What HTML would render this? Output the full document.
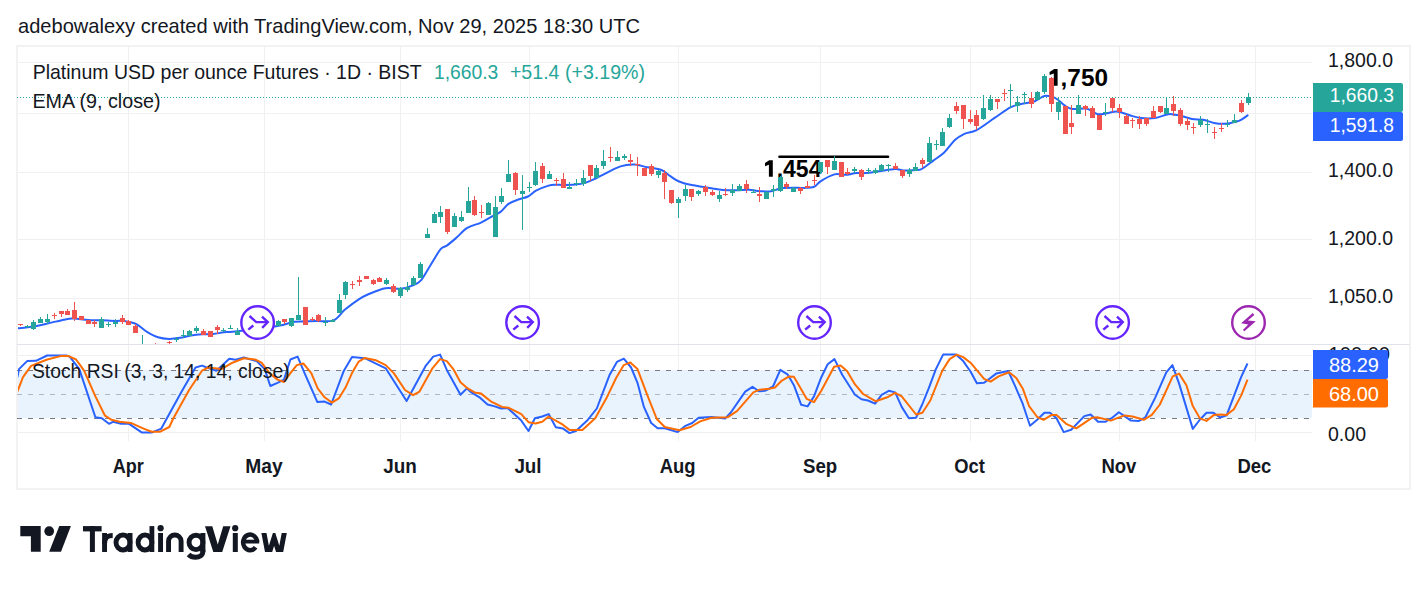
<!DOCTYPE html>
<html><head><meta charset="utf-8"><style>
html,body{margin:0;padding:0;background:#fff;width:1427px;height:591px;overflow:hidden}
svg{position:absolute;left:0;top:0}
text{font-family:"Liberation Sans",sans-serif}
</style></head><body>
<svg width="1427" height="591" viewBox="0 0 1427 591" shape-rendering="crispEdges">
<defs>
<clipPath id="pp"><rect x="18" y="47" width="1294" height="297"/></clipPath>
<clipPath id="rp"><rect x="18" y="345" width="1294" height="96"/></clipPath>
</defs>

<text x="18" y="32.7" font-size="20.3" fill="#131722" textLength="622" lengthAdjust="spacingAndGlyphs">adebowalexy created with TradingView.com, Nov 29, 2025 18:30 UTC</text>
<rect x="17" y="46" width="1393" height="443" fill="none" stroke="#f2f2f2" stroke-width="2"/>
<rect x="18" y="62" width="1294" height="1" fill="#f0f0f0"/>
<rect x="18" y="113" width="1294" height="1" fill="#f0f0f0"/>
<rect x="18" y="172" width="1294" height="1" fill="#f0f0f0"/>
<rect x="18" y="239" width="1294" height="1" fill="#f0f0f0"/>
<rect x="18" y="298" width="1294" height="1" fill="#f0f0f0"/>
<rect x="128" y="47" width="1" height="394" fill="#f0f0f0"/>
<rect x="264" y="47" width="1" height="394" fill="#f0f0f0"/>
<rect x="400" y="47" width="1" height="394" fill="#f0f0f0"/>
<rect x="529" y="47" width="1" height="394" fill="#f0f0f0"/>
<rect x="678" y="47" width="1" height="394" fill="#f0f0f0"/>
<rect x="820" y="47" width="1" height="394" fill="#f0f0f0"/>
<rect x="970" y="47" width="1" height="394" fill="#f0f0f0"/>
<rect x="1119" y="47" width="1" height="394" fill="#f0f0f0"/>
<rect x="1255" y="47" width="1" height="394" fill="#f0f0f0"/>
<rect x="18" y="355" width="1294" height="1" fill="#f0f0f0"/>
<rect x="18" y="432" width="1294" height="1" fill="#f0f0f0"/>
<rect x="18" y="370" width="1294" height="48" fill="#e9f3fe"/>
<line x1="17" y1="370.5" x2="1312" y2="370.5" stroke="#787b86" stroke-opacity="1" stroke-width="1" stroke-dasharray="5 6"/>
<line x1="17" y1="394.5" x2="1312" y2="394.5" stroke="#787b86" stroke-opacity="0.5" stroke-width="1" stroke-dasharray="5 6"/>
<line x1="17" y1="418.5" x2="1312" y2="418.5" stroke="#787b86" stroke-opacity="1" stroke-width="1" stroke-dasharray="5 6"/>
<rect x="17" y="344" width="1393" height="1" fill="#e0e3eb"/>
<g clip-path="url(#pp)" shape-rendering="geometricPrecision"><path d="M17.0,328.4 C19.8,328.1 28.4,327.3 33.5,326.5 C38.6,325.7 41.8,324.8 47.5,323.5 C53.2,322.2 63.0,319.7 67.5,318.9 C72.0,318.1 70.9,318.4 74.4,318.6 C77.9,318.8 83.8,319.7 88.3,320.0 C92.8,320.3 97.0,320.1 101.5,320.3 C106.0,320.5 112.0,320.9 115.5,321.0 C119.0,321.1 119.0,320.3 122.4,320.8 C125.8,321.3 131.9,322.2 136.0,324.0 C140.1,325.8 143.3,329.6 147.0,331.8 C150.7,334.0 154.3,336.1 158.0,337.3 C161.7,338.5 165.3,338.8 169.0,338.9 C172.7,339.0 176.3,338.4 180.0,337.8 C183.7,337.2 187.3,336.2 191.0,335.6 C194.7,335.0 198.3,334.6 202.0,334.3 C205.7,334.0 209.3,334.3 213.0,334.0 C216.7,333.7 220.3,332.7 224.0,332.3 C227.7,331.9 226.1,332.4 235.0,331.4 C243.9,330.4 267.6,327.7 277.5,326.1 C287.4,324.5 288.2,322.6 294.7,321.8 C301.2,321.0 309.8,321.3 316.3,321.1 C322.8,320.9 328.7,322.3 333.5,320.4 C338.3,318.5 340.9,313.0 345.0,309.6 C349.1,306.2 354.2,302.3 358.0,299.8 C361.8,297.3 363.2,296.4 367.8,294.5 C372.4,292.6 380.0,289.1 385.5,288.2 C391.0,287.2 396.2,289.2 400.6,288.8 C405.1,288.4 408.8,287.0 412.2,285.6 C415.6,284.2 418.0,283.6 421.0,280.3 C424.0,277.0 426.7,271.2 430.0,266.0 C433.3,260.8 437.8,252.6 440.6,249.2 C443.4,245.8 444.1,247.5 446.8,245.6 C449.5,243.7 453.2,240.5 456.6,237.6 C460.0,234.7 463.1,230.4 467.2,227.9 C471.3,225.4 476.9,224.5 481.0,222.6 C485.1,220.7 488.4,218.5 491.6,216.7 C494.9,214.9 497.7,214.0 500.5,211.9 C503.3,209.8 505.5,206.0 508.5,203.9 C511.5,201.8 515.0,200.7 518.3,199.5 C521.5,198.3 525.0,198.0 528.0,196.5 C531.0,195.0 532.6,192.4 536.0,190.6 C539.4,188.8 545.2,186.6 548.5,185.6 C551.8,184.6 553.6,184.8 556.0,184.7 C558.4,184.6 559.8,185.0 563.0,185.0 C566.2,185.0 571.2,185.0 575.0,184.6 C578.8,184.2 582.5,183.6 585.8,182.6 C589.1,181.6 592.2,180.1 595.0,178.8 C597.8,177.5 598.5,176.9 602.8,174.8 C607.0,172.7 615.2,168.1 620.5,166.4 C625.8,164.7 630.2,164.4 634.7,164.6 C639.2,164.8 642.8,166.4 647.2,167.3 C651.7,168.2 657.5,168.5 661.4,170.0 C665.2,171.5 667.3,174.3 670.3,176.2 C673.2,178.1 675.5,180.0 679.1,181.5 C682.7,183.0 687.2,184.2 691.6,185.1 C696.0,186.0 701.7,186.5 705.8,187.2 C709.9,187.8 712.5,188.5 716.0,189.0 C719.5,189.5 723.3,190.1 727.0,190.3 C730.7,190.5 734.3,190.3 738.0,190.2 C741.7,190.1 745.3,189.6 749.0,189.8 C752.7,190.0 756.3,191.0 760.0,191.2 C763.7,191.4 768.1,191.5 771.0,191.2 C773.9,190.9 775.8,189.8 777.6,189.3 C779.4,188.8 779.4,188.3 782.0,188.0 C784.6,187.7 789.3,187.7 793.0,187.7 C796.7,187.7 800.5,188.1 804.0,187.9 C807.5,187.8 811.2,187.9 814.0,186.8 C816.8,185.7 817.1,183.4 820.5,181.3 C823.9,179.2 830.4,175.5 834.5,174.4 C838.6,173.3 841.7,175.0 845.3,174.8 C848.9,174.6 852.7,173.4 856.1,173.1 C859.5,172.8 861.8,173.4 865.6,173.1 C869.5,172.8 874.2,171.9 879.2,171.2 C884.2,170.5 891.4,169.1 895.4,169.0 C899.4,168.9 899.9,170.2 903.5,170.4 C907.1,170.6 913.8,170.4 917.0,170.1 C920.2,169.8 919.8,170.1 922.5,168.5 C925.2,166.9 929.7,163.3 933.3,160.6 C936.9,157.9 940.6,155.9 944.2,152.5 C947.8,149.1 951.5,143.1 954.9,140.0 C958.3,136.9 960.8,135.5 964.4,133.8 C968.0,132.2 971.6,132.7 976.6,130.1 C981.6,127.5 988.6,122.0 994.2,118.2 C999.8,114.4 1005.9,109.8 1010.4,107.4 C1014.9,105.0 1017.1,105.0 1021.2,104.0 C1025.3,103.0 1031.0,102.6 1034.8,101.3 C1038.6,100.0 1040.9,96.5 1044.3,95.9 C1047.7,95.3 1051.7,96.3 1055.1,97.9 C1058.5,99.5 1061.8,103.6 1064.6,105.4 C1067.4,107.2 1068.5,108.5 1072.2,109.0 C1076.0,109.5 1082.8,107.8 1087.1,108.7 C1091.4,109.6 1093.4,113.7 1097.9,114.2 C1102.4,114.7 1110.6,112.1 1114.2,111.7 C1117.8,111.3 1116.9,111.5 1119.6,112.1 C1122.3,112.7 1126.8,114.5 1130.4,115.5 C1134.0,116.5 1137.1,117.6 1141.2,118.0 C1145.3,118.4 1150.3,118.6 1154.8,118.0 C1159.3,117.4 1164.9,114.7 1168.3,114.2 C1171.7,113.7 1173.0,114.5 1175.1,114.8 C1177.2,115.1 1178.2,115.1 1181.0,115.8 C1183.8,116.5 1188.3,118.4 1192.0,119.1 C1195.7,119.8 1199.3,119.2 1203.0,119.8 C1206.7,120.4 1210.3,122.2 1214.0,122.9 C1217.7,123.6 1221.3,124.0 1225.0,123.8 C1228.7,123.6 1233.2,122.5 1236.0,121.8 C1238.8,121.1 1239.6,120.7 1241.5,119.6 C1243.4,118.5 1246.6,116.1 1247.6,115.4" fill="none" stroke="#2962ff" stroke-width="2" stroke-linejoin="round" stroke-linecap="round"/></g>
<line x1="779.5" y1="156.7" x2="888" y2="156.7" stroke="#000" stroke-width="2.6" stroke-linecap="round" shape-rendering="geometricPrecision"/>
<polygon shape-rendering="geometricPrecision" points="769.2,160.3 772.8,160.3 772.8,176.8 768.9,176.8 768.9,164.8 765,166.2 765,163 769.2,160.3" fill="#000"/>
<text x="776.7" y="176.8" font-size="23" font-weight="bold" fill="#000">,454</text>
<polygon shape-rendering="geometricPrecision" points="1054.2,69.1 1057.6,69.1 1057.6,85.8 1053.8,85.8 1053.8,73.6 1049.6,75.1 1049.6,71.9 1054.2,69.1" fill="#000"/>
<text x="1060.6" y="85.8" font-size="23.5" font-weight="bold" fill="#000" textLength="47.5" lengthAdjust="spacingAndGlyphs">,750</text>
<line x1="17" y1="97.5" x2="1312" y2="97.5" stroke="#26a69a" stroke-width="1" stroke-dasharray="1 2"/>
<g clip-path="url(#pp)">
<rect x="20" y="324" width="1" height="2" fill="#ef5350"/>
<rect x="18" y="324" width="5" height="1" fill="#ef5350"/>
<rect x="27" y="325" width="1" height="3" fill="#26a69a"/>
<rect x="25" y="326" width="5" height="1" fill="#26a69a"/>
<rect x="33" y="320" width="1" height="10" fill="#26a69a"/>
<rect x="31" y="322" width="5" height="7" fill="#26a69a"/>
<rect x="40" y="317" width="1" height="6" fill="#26a69a"/>
<rect x="38" y="319" width="5" height="4" fill="#26a69a"/>
<rect x="47" y="314" width="1" height="10" fill="#26a69a"/>
<rect x="45" y="319" width="5" height="3" fill="#26a69a"/>
<rect x="54" y="313" width="1" height="6" fill="#ef5350"/>
<rect x="52" y="315" width="5" height="1" fill="#ef5350"/>
<rect x="61" y="311" width="1" height="6" fill="#ef5350"/>
<rect x="59" y="311" width="5" height="3" fill="#ef5350"/>
<rect x="67" y="309" width="1" height="6" fill="#ef5350"/>
<rect x="65" y="311" width="5" height="4" fill="#ef5350"/>
<rect x="74" y="302" width="1" height="19" fill="#ef5350"/>
<rect x="72" y="310" width="5" height="9" fill="#ef5350"/>
<rect x="81" y="316" width="1" height="4" fill="#ef5350"/>
<rect x="79" y="316" width="5" height="4" fill="#ef5350"/>
<rect x="88" y="320" width="1" height="4" fill="#ef5350"/>
<rect x="86" y="320" width="5" height="4" fill="#ef5350"/>
<rect x="94" y="320" width="1" height="7" fill="#ef5350"/>
<rect x="92" y="322" width="5" height="2" fill="#ef5350"/>
<rect x="101" y="317" width="1" height="11" fill="#26a69a"/>
<rect x="99" y="319" width="5" height="9" fill="#26a69a"/>
<rect x="108" y="322" width="1" height="5" fill="#26a69a"/>
<rect x="106" y="324" width="5" height="1" fill="#26a69a"/>
<rect x="115" y="319" width="1" height="8" fill="#26a69a"/>
<rect x="113" y="322" width="5" height="2" fill="#26a69a"/>
<rect x="122" y="315" width="1" height="9" fill="#ef5350"/>
<rect x="120" y="318" width="5" height="4" fill="#ef5350"/>
<rect x="128" y="320" width="1" height="5" fill="#ef5350"/>
<rect x="126" y="321" width="5" height="4" fill="#ef5350"/>
<rect x="135" y="324" width="1" height="9" fill="#ef5350"/>
<rect x="133" y="326" width="5" height="7" fill="#ef5350"/>
<rect x="142" y="335" width="1" height="23" fill="#26a69a"/>
<rect x="140" y="346" width="5" height="10" fill="#26a69a"/>
<rect x="149" y="346" width="1" height="14" fill="#ef5350"/>
<rect x="147" y="348" width="5" height="7" fill="#ef5350"/>
<rect x="155" y="343" width="1" height="9" fill="#ef5350"/>
<rect x="153" y="346" width="5" height="4" fill="#ef5350"/>
<rect x="162" y="345" width="1" height="10" fill="#26a69a"/>
<rect x="160" y="346" width="5" height="6" fill="#26a69a"/>
<rect x="169" y="341" width="1" height="3" fill="#ef5350"/>
<rect x="167" y="342" width="5" height="1" fill="#ef5350"/>
<rect x="176" y="337" width="1" height="5" fill="#26a69a"/>
<rect x="174" y="339" width="5" height="1" fill="#26a69a"/>
<rect x="183" y="330" width="1" height="8" fill="#26a69a"/>
<rect x="181" y="335" width="5" height="1" fill="#26a69a"/>
<rect x="189" y="330" width="1" height="6" fill="#26a69a"/>
<rect x="187" y="331" width="5" height="5" fill="#26a69a"/>
<rect x="196" y="326" width="1" height="7" fill="#26a69a"/>
<rect x="194" y="328" width="5" height="3" fill="#26a69a"/>
<rect x="203" y="329" width="1" height="6" fill="#ef5350"/>
<rect x="201" y="331" width="5" height="4" fill="#ef5350"/>
<rect x="210" y="331" width="1" height="6" fill="#ef5350"/>
<rect x="208" y="331" width="5" height="6" fill="#ef5350"/>
<rect x="217" y="325" width="1" height="9" fill="#ef5350"/>
<rect x="215" y="327" width="5" height="3" fill="#ef5350"/>
<rect x="223" y="328" width="1" height="4" fill="#26a69a"/>
<rect x="221" y="330" width="5" height="1" fill="#26a69a"/>
<rect x="230" y="325" width="1" height="4" fill="#26a69a"/>
<rect x="228" y="328" width="5" height="1" fill="#26a69a"/>
<rect x="237" y="328" width="1" height="7" fill="#26a69a"/>
<rect x="235" y="331" width="5" height="4" fill="#26a69a"/>
<rect x="244" y="326" width="1" height="7" fill="#26a69a"/>
<rect x="242" y="328" width="5" height="3" fill="#26a69a"/>
<rect x="251" y="325" width="1" height="7" fill="#ef5350"/>
<rect x="249" y="327" width="5" height="3" fill="#ef5350"/>
<rect x="258" y="324" width="1" height="7" fill="#26a69a"/>
<rect x="256" y="326" width="5" height="3" fill="#26a69a"/>
<rect x="265" y="322" width="1" height="7" fill="#26a69a"/>
<rect x="263" y="324" width="5" height="3" fill="#26a69a"/>
<rect x="272" y="320" width="1" height="7" fill="#ef5350"/>
<rect x="270" y="322" width="5" height="3" fill="#ef5350"/>
<rect x="278" y="320" width="1" height="6" fill="#26a69a"/>
<rect x="276" y="321" width="5" height="5" fill="#26a69a"/>
<rect x="284" y="319" width="1" height="5" fill="#ef5350"/>
<rect x="282" y="319" width="5" height="3" fill="#ef5350"/>
<rect x="291" y="318" width="1" height="9" fill="#26a69a"/>
<rect x="289" y="318" width="5" height="8" fill="#26a69a"/>
<rect x="298" y="277" width="1" height="43" fill="#26a69a"/>
<rect x="296" y="315" width="5" height="5" fill="#26a69a"/>
<rect x="305" y="307" width="1" height="18" fill="#ef5350"/>
<rect x="303" y="307" width="5" height="18" fill="#ef5350"/>
<rect x="312" y="317" width="1" height="4" fill="#ef5350"/>
<rect x="310" y="319" width="5" height="1" fill="#ef5350"/>
<rect x="318" y="314" width="1" height="8" fill="#ef5350"/>
<rect x="316" y="315" width="5" height="6" fill="#ef5350"/>
<rect x="325" y="317" width="1" height="9" fill="#26a69a"/>
<rect x="323" y="322" width="5" height="1" fill="#26a69a"/>
<rect x="332" y="319" width="1" height="3" fill="#26a69a"/>
<rect x="330" y="320" width="5" height="2" fill="#26a69a"/>
<rect x="339" y="294" width="1" height="19" fill="#26a69a"/>
<rect x="337" y="300" width="5" height="13" fill="#26a69a"/>
<rect x="345" y="281" width="1" height="18" fill="#26a69a"/>
<rect x="343" y="282" width="5" height="13" fill="#26a69a"/>
<rect x="352" y="281" width="1" height="8" fill="#ef5350"/>
<rect x="350" y="284" width="5" height="1" fill="#ef5350"/>
<rect x="359" y="276" width="1" height="10" fill="#ef5350"/>
<rect x="357" y="280" width="5" height="2" fill="#ef5350"/>
<rect x="366" y="276" width="1" height="3" fill="#ef5350"/>
<rect x="364" y="276" width="5" height="3" fill="#ef5350"/>
<rect x="373" y="279" width="1" height="6" fill="#ef5350"/>
<rect x="371" y="280" width="5" height="4" fill="#ef5350"/>
<rect x="379" y="277" width="1" height="5" fill="#ef5350"/>
<rect x="377" y="278" width="5" height="4" fill="#ef5350"/>
<rect x="386" y="278" width="1" height="7" fill="#26a69a"/>
<rect x="384" y="280" width="5" height="4" fill="#26a69a"/>
<rect x="393" y="284" width="1" height="9" fill="#ef5350"/>
<rect x="391" y="286" width="5" height="6" fill="#ef5350"/>
<rect x="400" y="287" width="1" height="11" fill="#26a69a"/>
<rect x="398" y="288" width="5" height="8" fill="#26a69a"/>
<rect x="407" y="282" width="1" height="10" fill="#26a69a"/>
<rect x="405" y="287" width="5" height="3" fill="#26a69a"/>
<rect x="413" y="276" width="1" height="9" fill="#26a69a"/>
<rect x="411" y="278" width="5" height="7" fill="#26a69a"/>
<rect x="420" y="262" width="1" height="16" fill="#26a69a"/>
<rect x="418" y="264" width="5" height="14" fill="#26a69a"/>
<rect x="427" y="228" width="1" height="10" fill="#26a69a"/>
<rect x="425" y="234" width="5" height="4" fill="#26a69a"/>
<rect x="434" y="212" width="1" height="11" fill="#26a69a"/>
<rect x="432" y="214" width="5" height="9" fill="#26a69a"/>
<rect x="440" y="206" width="1" height="17" fill="#26a69a"/>
<rect x="438" y="212" width="5" height="5" fill="#26a69a"/>
<rect x="447" y="209" width="1" height="25" fill="#ef5350"/>
<rect x="445" y="209" width="5" height="23" fill="#ef5350"/>
<rect x="454" y="213" width="1" height="14" fill="#26a69a"/>
<rect x="452" y="216" width="5" height="11" fill="#26a69a"/>
<rect x="461" y="211" width="1" height="11" fill="#26a69a"/>
<rect x="459" y="217" width="5" height="4" fill="#26a69a"/>
<rect x="468" y="187" width="1" height="26" fill="#26a69a"/>
<rect x="466" y="201" width="5" height="12" fill="#26a69a"/>
<rect x="474" y="196" width="1" height="20" fill="#ef5350"/>
<rect x="472" y="200" width="5" height="15" fill="#ef5350"/>
<rect x="481" y="205" width="1" height="13" fill="#ef5350"/>
<rect x="479" y="212" width="5" height="1" fill="#ef5350"/>
<rect x="488" y="202" width="1" height="13" fill="#26a69a"/>
<rect x="486" y="203" width="5" height="12" fill="#26a69a"/>
<rect x="495" y="196" width="1" height="41" fill="#26a69a"/>
<rect x="493" y="207" width="5" height="30" fill="#26a69a"/>
<rect x="501" y="188" width="1" height="16" fill="#26a69a"/>
<rect x="499" y="196" width="5" height="6" fill="#26a69a"/>
<rect x="508" y="160" width="1" height="22" fill="#26a69a"/>
<rect x="506" y="174" width="5" height="8" fill="#26a69a"/>
<rect x="515" y="172" width="1" height="23" fill="#ef5350"/>
<rect x="513" y="173" width="5" height="17" fill="#ef5350"/>
<rect x="522" y="175" width="1" height="55" fill="#26a69a"/>
<rect x="520" y="191" width="5" height="3" fill="#26a69a"/>
<rect x="529" y="182" width="1" height="10" fill="#26a69a"/>
<rect x="527" y="187" width="5" height="1" fill="#26a69a"/>
<rect x="535" y="162" width="1" height="24" fill="#26a69a"/>
<rect x="533" y="171" width="5" height="14" fill="#26a69a"/>
<rect x="542" y="163" width="1" height="20" fill="#ef5350"/>
<rect x="540" y="166" width="5" height="13" fill="#ef5350"/>
<rect x="549" y="171" width="1" height="8" fill="#26a69a"/>
<rect x="547" y="174" width="5" height="5" fill="#26a69a"/>
<rect x="556" y="178" width="1" height="8" fill="#ef5350"/>
<rect x="554" y="180" width="5" height="1" fill="#ef5350"/>
<rect x="563" y="173" width="1" height="15" fill="#ef5350"/>
<rect x="561" y="179" width="5" height="9" fill="#ef5350"/>
<rect x="569" y="182" width="1" height="7" fill="#26a69a"/>
<rect x="567" y="187" width="5" height="2" fill="#26a69a"/>
<rect x="576" y="179" width="1" height="7" fill="#26a69a"/>
<rect x="574" y="183" width="5" height="1" fill="#26a69a"/>
<rect x="583" y="170" width="1" height="16" fill="#26a69a"/>
<rect x="581" y="178" width="5" height="6" fill="#26a69a"/>
<rect x="590" y="165" width="1" height="16" fill="#ef5350"/>
<rect x="588" y="165" width="5" height="11" fill="#ef5350"/>
<rect x="596" y="165" width="1" height="13" fill="#26a69a"/>
<rect x="594" y="168" width="5" height="10" fill="#26a69a"/>
<rect x="603" y="150" width="1" height="19" fill="#26a69a"/>
<rect x="601" y="161" width="5" height="5" fill="#26a69a"/>
<rect x="610" y="147" width="1" height="15" fill="#ef5350"/>
<rect x="608" y="157" width="5" height="1" fill="#ef5350"/>
<rect x="617" y="151" width="1" height="10" fill="#26a69a"/>
<rect x="615" y="157" width="5" height="4" fill="#26a69a"/>
<rect x="624" y="154" width="1" height="6" fill="#26a69a"/>
<rect x="622" y="156" width="5" height="2" fill="#26a69a"/>
<rect x="630" y="154" width="1" height="12" fill="#ef5350"/>
<rect x="628" y="160" width="5" height="2" fill="#ef5350"/>
<rect x="637" y="157" width="1" height="19" fill="#ef5350"/>
<rect x="635" y="164" width="5" height="1" fill="#ef5350"/>
<rect x="644" y="168" width="1" height="8" fill="#ef5350"/>
<rect x="642" y="168" width="5" height="8" fill="#ef5350"/>
<rect x="651" y="164" width="1" height="12" fill="#ef5350"/>
<rect x="649" y="166" width="5" height="8" fill="#ef5350"/>
<rect x="658" y="170" width="1" height="8" fill="#26a69a"/>
<rect x="656" y="171" width="5" height="4" fill="#26a69a"/>
<rect x="664" y="170" width="1" height="29" fill="#ef5350"/>
<rect x="662" y="173" width="5" height="9" fill="#ef5350"/>
<rect x="671" y="190" width="1" height="14" fill="#ef5350"/>
<rect x="669" y="190" width="5" height="13" fill="#ef5350"/>
<rect x="678" y="197" width="1" height="21" fill="#26a69a"/>
<rect x="676" y="199" width="5" height="4" fill="#26a69a"/>
<rect x="685" y="185" width="1" height="16" fill="#26a69a"/>
<rect x="683" y="189" width="5" height="7" fill="#26a69a"/>
<rect x="691" y="189" width="1" height="12" fill="#ef5350"/>
<rect x="689" y="189" width="5" height="8" fill="#ef5350"/>
<rect x="698" y="190" width="1" height="6" fill="#26a69a"/>
<rect x="696" y="191" width="5" height="3" fill="#26a69a"/>
<rect x="705" y="185" width="1" height="11" fill="#ef5350"/>
<rect x="703" y="187" width="5" height="5" fill="#ef5350"/>
<rect x="712" y="190" width="1" height="6" fill="#ef5350"/>
<rect x="710" y="192" width="5" height="3" fill="#ef5350"/>
<rect x="719" y="191" width="1" height="11" fill="#26a69a"/>
<rect x="717" y="195" width="5" height="4" fill="#26a69a"/>
<rect x="725" y="188" width="1" height="8" fill="#ef5350"/>
<rect x="723" y="194" width="5" height="1" fill="#ef5350"/>
<rect x="732" y="184" width="1" height="12" fill="#26a69a"/>
<rect x="730" y="190" width="5" height="3" fill="#26a69a"/>
<rect x="739" y="184" width="1" height="7" fill="#26a69a"/>
<rect x="737" y="186" width="5" height="5" fill="#26a69a"/>
<rect x="746" y="180" width="1" height="13" fill="#ef5350"/>
<rect x="744" y="184" width="5" height="5" fill="#ef5350"/>
<rect x="753" y="189" width="1" height="4" fill="#26a69a"/>
<rect x="751" y="192" width="5" height="1" fill="#26a69a"/>
<rect x="759" y="187" width="1" height="15" fill="#ef5350"/>
<rect x="757" y="194" width="5" height="2" fill="#ef5350"/>
<rect x="766" y="191" width="1" height="8" fill="#26a69a"/>
<rect x="764" y="192" width="5" height="7" fill="#26a69a"/>
<rect x="773" y="185" width="1" height="12" fill="#26a69a"/>
<rect x="771" y="189" width="5" height="2" fill="#26a69a"/>
<rect x="780" y="176" width="1" height="16" fill="#26a69a"/>
<rect x="778" y="177" width="5" height="14" fill="#26a69a"/>
<rect x="786" y="182" width="1" height="7" fill="#ef5350"/>
<rect x="784" y="184" width="5" height="3" fill="#ef5350"/>
<rect x="793" y="187" width="1" height="5" fill="#26a69a"/>
<rect x="791" y="188" width="5" height="4" fill="#26a69a"/>
<rect x="800" y="187" width="1" height="7" fill="#ef5350"/>
<rect x="798" y="188" width="5" height="3" fill="#ef5350"/>
<rect x="807" y="181" width="1" height="7" fill="#ef5350"/>
<rect x="805" y="186" width="5" height="2" fill="#ef5350"/>
<rect x="814" y="175" width="1" height="10" fill="#ef5350"/>
<rect x="812" y="180" width="5" height="1" fill="#ef5350"/>
<rect x="820" y="162" width="1" height="12" fill="#26a69a"/>
<rect x="818" y="162" width="5" height="10" fill="#26a69a"/>
<rect x="827" y="160" width="1" height="14" fill="#ef5350"/>
<rect x="825" y="160" width="5" height="7" fill="#ef5350"/>
<rect x="834" y="156" width="1" height="14" fill="#26a69a"/>
<rect x="832" y="161" width="5" height="9" fill="#26a69a"/>
<rect x="841" y="162" width="1" height="15" fill="#ef5350"/>
<rect x="839" y="162" width="5" height="15" fill="#ef5350"/>
<rect x="847" y="168" width="1" height="7" fill="#ef5350"/>
<rect x="845" y="172" width="5" height="2" fill="#ef5350"/>
<rect x="854" y="167" width="1" height="6" fill="#26a69a"/>
<rect x="852" y="169" width="5" height="2" fill="#26a69a"/>
<rect x="861" y="169" width="1" height="11" fill="#ef5350"/>
<rect x="859" y="170" width="5" height="7" fill="#ef5350"/>
<rect x="868" y="168" width="1" height="6" fill="#26a69a"/>
<rect x="866" y="170" width="5" height="1" fill="#26a69a"/>
<rect x="875" y="168" width="1" height="6" fill="#26a69a"/>
<rect x="873" y="170" width="5" height="3" fill="#26a69a"/>
<rect x="881" y="164" width="1" height="7" fill="#26a69a"/>
<rect x="879" y="165" width="5" height="6" fill="#26a69a"/>
<rect x="888" y="164" width="1" height="8" fill="#26a69a"/>
<rect x="886" y="165" width="5" height="1" fill="#26a69a"/>
<rect x="895" y="163" width="1" height="6" fill="#ef5350"/>
<rect x="893" y="166" width="5" height="3" fill="#ef5350"/>
<rect x="902" y="170" width="1" height="8" fill="#ef5350"/>
<rect x="900" y="170" width="5" height="6" fill="#ef5350"/>
<rect x="909" y="168" width="1" height="9" fill="#26a69a"/>
<rect x="907" y="170" width="5" height="4" fill="#26a69a"/>
<rect x="915" y="163" width="1" height="8" fill="#26a69a"/>
<rect x="913" y="167" width="5" height="4" fill="#26a69a"/>
<rect x="922" y="158" width="1" height="10" fill="#ef5350"/>
<rect x="920" y="160" width="5" height="4" fill="#ef5350"/>
<rect x="929" y="137" width="1" height="25" fill="#26a69a"/>
<rect x="927" y="143" width="5" height="19" fill="#26a69a"/>
<rect x="936" y="140" width="1" height="10" fill="#26a69a"/>
<rect x="934" y="144" width="5" height="1" fill="#26a69a"/>
<rect x="942" y="128" width="1" height="18" fill="#26a69a"/>
<rect x="940" y="132" width="5" height="14" fill="#26a69a"/>
<rect x="949" y="114" width="1" height="14" fill="#26a69a"/>
<rect x="947" y="118" width="5" height="9" fill="#26a69a"/>
<rect x="956" y="102" width="1" height="12" fill="#ef5350"/>
<rect x="954" y="106" width="5" height="5" fill="#ef5350"/>
<rect x="963" y="105" width="1" height="24" fill="#ef5350"/>
<rect x="961" y="105" width="5" height="14" fill="#ef5350"/>
<rect x="970" y="110" width="1" height="14" fill="#ef5350"/>
<rect x="968" y="119" width="5" height="3" fill="#ef5350"/>
<rect x="976" y="110" width="1" height="20" fill="#ef5350"/>
<rect x="974" y="115" width="5" height="11" fill="#ef5350"/>
<rect x="983" y="95" width="1" height="25" fill="#26a69a"/>
<rect x="981" y="108" width="5" height="11" fill="#26a69a"/>
<rect x="990" y="95" width="1" height="16" fill="#26a69a"/>
<rect x="988" y="99" width="5" height="11" fill="#26a69a"/>
<rect x="997" y="99" width="1" height="10" fill="#ef5350"/>
<rect x="995" y="99" width="5" height="3" fill="#ef5350"/>
<rect x="1004" y="89" width="1" height="12" fill="#ef5350"/>
<rect x="1002" y="93" width="5" height="1" fill="#ef5350"/>
<rect x="1010" y="84" width="1" height="24" fill="#26a69a"/>
<rect x="1008" y="90" width="5" height="1" fill="#26a69a"/>
<rect x="1017" y="96" width="1" height="16" fill="#26a69a"/>
<rect x="1015" y="102" width="5" height="4" fill="#26a69a"/>
<rect x="1024" y="92" width="1" height="12" fill="#26a69a"/>
<rect x="1022" y="94" width="5" height="1" fill="#26a69a"/>
<rect x="1031" y="92" width="1" height="16" fill="#ef5350"/>
<rect x="1029" y="98" width="5" height="6" fill="#ef5350"/>
<rect x="1037" y="91" width="1" height="9" fill="#26a69a"/>
<rect x="1035" y="92" width="5" height="8" fill="#26a69a"/>
<rect x="1044" y="74" width="1" height="20" fill="#26a69a"/>
<rect x="1042" y="76" width="5" height="16" fill="#26a69a"/>
<rect x="1051" y="77" width="1" height="35" fill="#ef5350"/>
<rect x="1049" y="78" width="5" height="26" fill="#ef5350"/>
<rect x="1058" y="97" width="1" height="23" fill="#26a69a"/>
<rect x="1056" y="102" width="5" height="10" fill="#26a69a"/>
<rect x="1065" y="106" width="1" height="28" fill="#ef5350"/>
<rect x="1063" y="106" width="5" height="28" fill="#ef5350"/>
<rect x="1071" y="105" width="1" height="29" fill="#ef5350"/>
<rect x="1069" y="123" width="5" height="4" fill="#ef5350"/>
<rect x="1078" y="95" width="1" height="19" fill="#26a69a"/>
<rect x="1076" y="105" width="5" height="9" fill="#26a69a"/>
<rect x="1085" y="105" width="1" height="11" fill="#ef5350"/>
<rect x="1083" y="106" width="5" height="3" fill="#ef5350"/>
<rect x="1092" y="106" width="1" height="12" fill="#ef5350"/>
<rect x="1090" y="108" width="5" height="10" fill="#ef5350"/>
<rect x="1099" y="115" width="1" height="15" fill="#ef5350"/>
<rect x="1097" y="115" width="5" height="15" fill="#ef5350"/>
<rect x="1105" y="103" width="1" height="13" fill="#26a69a"/>
<rect x="1103" y="112" width="5" height="1" fill="#26a69a"/>
<rect x="1112" y="98" width="1" height="14" fill="#ef5350"/>
<rect x="1110" y="98" width="5" height="10" fill="#ef5350"/>
<rect x="1119" y="104" width="1" height="14" fill="#ef5350"/>
<rect x="1117" y="108" width="5" height="4" fill="#ef5350"/>
<rect x="1126" y="114" width="1" height="10" fill="#ef5350"/>
<rect x="1124" y="116" width="5" height="8" fill="#ef5350"/>
<rect x="1132" y="118" width="1" height="10" fill="#ef5350"/>
<rect x="1130" y="120" width="5" height="1" fill="#ef5350"/>
<rect x="1139" y="116" width="1" height="13" fill="#ef5350"/>
<rect x="1137" y="119" width="5" height="5" fill="#ef5350"/>
<rect x="1146" y="118" width="1" height="8" fill="#ef5350"/>
<rect x="1144" y="118" width="5" height="6" fill="#ef5350"/>
<rect x="1153" y="106" width="1" height="12" fill="#ef5350"/>
<rect x="1151" y="111" width="5" height="7" fill="#ef5350"/>
<rect x="1160" y="106" width="1" height="7" fill="#ef5350"/>
<rect x="1158" y="106" width="5" height="6" fill="#ef5350"/>
<rect x="1166" y="97" width="1" height="17" fill="#26a69a"/>
<rect x="1164" y="108" width="5" height="6" fill="#26a69a"/>
<rect x="1173" y="96" width="1" height="20" fill="#ef5350"/>
<rect x="1171" y="104" width="5" height="7" fill="#ef5350"/>
<rect x="1180" y="108" width="1" height="18" fill="#ef5350"/>
<rect x="1178" y="110" width="5" height="14" fill="#ef5350"/>
<rect x="1187" y="118" width="1" height="12" fill="#ef5350"/>
<rect x="1185" y="121" width="5" height="4" fill="#ef5350"/>
<rect x="1193" y="123" width="1" height="11" fill="#ef5350"/>
<rect x="1191" y="127" width="5" height="1" fill="#ef5350"/>
<rect x="1200" y="116" width="1" height="11" fill="#26a69a"/>
<rect x="1198" y="120" width="5" height="5" fill="#26a69a"/>
<rect x="1207" y="119" width="1" height="14" fill="#26a69a"/>
<rect x="1205" y="124" width="5" height="1" fill="#26a69a"/>
<rect x="1214" y="127" width="1" height="12" fill="#ef5350"/>
<rect x="1212" y="132" width="5" height="1" fill="#ef5350"/>
<rect x="1221" y="123" width="1" height="9" fill="#ef5350"/>
<rect x="1219" y="128" width="5" height="1" fill="#ef5350"/>
<rect x="1227" y="120" width="1" height="7" fill="#26a69a"/>
<rect x="1225" y="124" width="5" height="1" fill="#26a69a"/>
<rect x="1234" y="114" width="1" height="9" fill="#26a69a"/>
<rect x="1232" y="120" width="5" height="3" fill="#26a69a"/>
<rect x="1241" y="100" width="1" height="13" fill="#ef5350"/>
<rect x="1239" y="103" width="5" height="9" fill="#ef5350"/>
<rect x="1248" y="93" width="1" height="12" fill="#26a69a"/>
<rect x="1246" y="97" width="5" height="6" fill="#26a69a"/>
</g>
<g clip-path="url(#rp)" shape-rendering="geometricPrecision"><polyline points="17.4,377.2 19.0,369.1 27.1,361.1 35.9,360.8 47.2,355.5 66.4,355.5 69.7,356.6 79.3,369.1 95.4,417.3 101.8,418.2 109.0,423.8 113.0,421.8 121.1,423.8 129.1,423.8 142.0,432.6 151.7,432.6 161.3,428.6 181.1,392.4 195.5,367.5 202.0,365.6 206.8,367.5 216.4,370.7 229.3,358.7 235.7,359.8 243.8,357.5 256.6,361.1 264.7,369.1 270.3,386.0 277.5,382.8 284.0,379.6 290.4,359.5 297.6,356.6 304.9,373.9 317.4,402.1 324.6,401.6 331.1,404.5 343.9,370.7 352.0,357.1 364.8,358.2 385.7,368.3 406.6,401.0 425.9,365.6 433.2,356.6 440.1,354.6 446.8,369.9 460.5,394.8 466.9,388.4 471.4,392.4 479.5,397.3 487.5,404.5 493.9,406.1 501.2,408.5 507.6,408.0 521.3,420.6 528.5,431.0 534.9,418.2 542.2,416.5 548.6,414.1 555.8,427.3 563.1,428.6 569.5,433.1 575.9,431.0 587.2,420.6 596.8,408.5 609.7,374.7 616.9,361.9 623.8,358.7 631.1,367.5 637.5,382.8 643.9,406.9 651.2,423.0 657.6,428.3 664.8,428.3 677.7,432.1 684.9,426.2 692.2,423.0 698.6,417.7 711.5,417.0 725.1,418.6 730.8,412.5 745.2,391.6 752.5,386.8 758.9,391.3 765.0,390.8 773.0,386.5 780.3,369.9 787.5,374.3 793.9,385.2 801.2,404.8 807.6,406.4 814.0,396.4 821.3,377.2 827.7,364.3 834.5,359.1 842.2,374.7 855.0,394.8 861.5,399.3 867.9,400.5 875.1,403.7 881.6,394.8 888.8,390.8 895.2,392.4 901.7,406.9 908.9,418.2 916.1,417.7 922.2,404.5 928.7,388.4 935.9,369.1 943.1,354.6 956.0,354.6 963.2,361.1 970.5,371.5 976.9,383.3 984.1,382.8 996.2,373.6 1008.2,371.0 1014.7,385.2 1022.7,403.7 1030.0,425.7 1037.2,419.8 1044.4,412.8 1050.0,412.8 1056.5,418.2 1063.7,432.1 1071.2,429.7 1084.3,416.1 1090.7,414.5 1098.0,421.8 1105.2,421.8 1111.6,418.2 1118.9,412.2 1130.9,420.6 1139.0,420.9 1145.4,417.3 1155.0,398.1 1166.3,372.3 1172.4,365.1 1179.1,383.6 1192.8,428.9 1200.0,419.5 1206.5,412.8 1213.5,412.8 1220.1,417.5 1226.6,415.4 1233.9,396.1 1241.1,377.2 1247.5,363.5" fill="none" stroke="#2962ff" stroke-width="2" stroke-linejoin="round"/><polyline points="17.4,391.6 23.0,377.2 31.1,365.9 47.2,359.5 61.6,355.9 68.0,355.9 76.1,359.5 84.1,370.7 95.4,396.4 105.0,415.7 111.5,419.8 119.5,421.8 130.8,422.9 143.6,428.6 151.7,431.8 159.7,431.8 169.3,427.0 173.0,419.0 189.1,390.0 202.0,370.7 208.4,367.5 221.3,369.1 232.5,362.7 243.8,358.3 255.0,359.5 261.5,362.7 269.5,373.1 277.5,379.6 284.0,382.0 290.4,373.1 296.8,365.1 303.3,363.5 311.3,373.1 317.7,388.4 324.6,397.3 331.9,402.6 339.1,398.1 345.5,387.6 352.0,373.1 358.4,361.9 364.8,357.9 376.1,360.3 385.7,365.1 393.8,373.1 405.0,390.0 413.1,395.2 419.5,391.6 432.4,368.3 440.1,359.1 446.8,361.1 453.3,369.1 460.5,382.3 467.7,388.4 474.6,392.4 481.1,393.6 490.7,401.3 502.0,406.9 508.4,407.7 521.3,414.1 528.5,422.2 535.7,423.5 542.2,421.8 548.6,416.5 561.5,423.8 569.5,429.9 582.4,429.9 595.2,418.2 606.5,398.1 616.1,378.0 623.8,365.1 630.3,362.4 637.5,369.1 647.2,394.8 656.8,419.0 664.8,427.0 679.3,430.2 690.6,427.0 700.2,421.4 711.5,417.7 727.5,417.3 737.2,410.9 753.3,392.4 759.7,389.7 769.3,388.7 775.0,387.5 781.1,381.2 789.1,376.4 793.9,376.8 806.8,398.9 814.0,402.1 821.3,390.8 834.1,366.7 840.6,365.6 847.0,371.0 855.0,384.4 863.1,394.0 875.9,401.3 887.2,397.3 895.2,392.9 901.7,396.4 916.1,414.5 922.4,412.8 930.3,400.5 942.3,370.7 949.6,359.1 956.8,354.6 963.2,357.1 970.5,362.7 984.1,378.8 990.6,381.7 998.6,376.4 1009.1,372.3 1016.3,378.0 1022.7,388.4 1029.1,406.1 1037.2,417.0 1043.6,419.8 1051.7,414.9 1056.5,414.9 1066.1,423.8 1076.3,428.3 1092.3,417.7 1097.2,417.3 1110.8,420.6 1124.5,415.4 1132.5,416.5 1143.8,419.8 1151.8,414.9 1159.9,404.5 1172.7,376.4 1179.1,373.6 1186.4,385.2 1192.8,406.1 1200.0,418.4 1206.5,420.9 1214.0,414.9 1220.2,414.5 1226.6,414.9 1233.9,409.3 1241.1,395.6 1247.5,379.6" fill="none" stroke="#ff6d00" stroke-width="2" stroke-linejoin="round"/></g>
<text x="32.7" y="78.9" font-size="21" fill="#131722" textLength="389" lengthAdjust="spacingAndGlyphs">Platinum USD per ounce Futures · 1D · BIST</text>
<text x="434" y="78.9" font-size="21" fill="#26a69a" textLength="64.3" lengthAdjust="spacingAndGlyphs">1,660.3</text>
<text x="509.9" y="78.9" font-size="21" fill="#26a69a" textLength="135.1" lengthAdjust="spacingAndGlyphs">+51.4 (+3.19%)</text>
<text x="32.4" y="107.6" font-size="21" fill="#131722" textLength="128.2" lengthAdjust="spacingAndGlyphs">EMA (9, close)</text>
<text x="31.9" y="377.5" font-size="21" fill="#131722" textLength="257.7" lengthAdjust="spacingAndGlyphs">Stoch RSI (3, 3, 14, 14, close)</text>
<g shape-rendering="geometricPrecision"><circle cx="257.6" cy="322.5" r="16.3" fill="#fff" stroke="#6525ff" stroke-width="2.4"/><polyline points="249.5,316.0 256.3,322.1 268.0,322.1" fill="none" stroke="#6525ff" stroke-width="2.4" stroke-linejoin="miter"/><polyline points="262.0,316.6 267.8,322.1 262.2,327.8" fill="none" stroke="#6525ff" stroke-width="2.4"/><line x1="248.3" y1="329.7" x2="253.3" y2="325.5" stroke="#6525ff" stroke-width="2.4"/></g>
<g shape-rendering="geometricPrecision"><circle cx="522.6" cy="322.5" r="16.3" fill="#fff" stroke="#6525ff" stroke-width="2.4"/><polyline points="514.5,316.0 521.3,322.1 533.0,322.1" fill="none" stroke="#6525ff" stroke-width="2.4" stroke-linejoin="miter"/><polyline points="527.0,316.6 532.8,322.1 527.2,327.8" fill="none" stroke="#6525ff" stroke-width="2.4"/><line x1="513.3" y1="329.7" x2="518.3" y2="325.5" stroke="#6525ff" stroke-width="2.4"/></g>
<g shape-rendering="geometricPrecision"><circle cx="814.5" cy="322.5" r="16.3" fill="#fff" stroke="#6525ff" stroke-width="2.4"/><polyline points="806.4,316.0 813.2,322.1 824.9,322.1" fill="none" stroke="#6525ff" stroke-width="2.4" stroke-linejoin="miter"/><polyline points="818.9,316.6 824.7,322.1 819.1,327.8" fill="none" stroke="#6525ff" stroke-width="2.4"/><line x1="805.2" y1="329.7" x2="810.2" y2="325.5" stroke="#6525ff" stroke-width="2.4"/></g>
<g shape-rendering="geometricPrecision"><circle cx="1112.6" cy="322.5" r="16.3" fill="#fff" stroke="#6525ff" stroke-width="2.4"/><polyline points="1104.5,316.0 1111.3,322.1 1123.0,322.1" fill="none" stroke="#6525ff" stroke-width="2.4" stroke-linejoin="miter"/><polyline points="1117.0,316.6 1122.8,322.1 1117.2,327.8" fill="none" stroke="#6525ff" stroke-width="2.4"/><line x1="1103.3" y1="329.7" x2="1108.3" y2="325.5" stroke="#6525ff" stroke-width="2.4"/></g>
<g shape-rendering="geometricPrecision"><circle cx="1248.5" cy="322.5" r="16.3" fill="#fff" stroke="#9c27b0" stroke-width="2.4"/>
<polygon points="1252.8,313.1 1254.3,314.9 1247.8,320.4 1255.8,321.3 1244.4,331.2 1242.9,330.1 1248.2,324.4 1241.1,323.2" fill="#9c27b0"/></g>
<text x="1328" y="67" font-size="20.3" fill="#131722" textLength="65" lengthAdjust="spacingAndGlyphs">1,800.0</text>
<text x="1328" y="177" font-size="20.3" fill="#131722" textLength="65" lengthAdjust="spacingAndGlyphs">1,400.0</text>
<text x="1328" y="244.6" font-size="20.3" fill="#131722" textLength="65" lengthAdjust="spacingAndGlyphs">1,200.0</text>
<text x="1328" y="302.8" font-size="20.3" fill="#131722" textLength="65" lengthAdjust="spacingAndGlyphs">1,050.0</text>
<text x="1328.6" y="360.6" font-size="20.3" fill="#131722" textLength="61.4" lengthAdjust="spacingAndGlyphs">100.00</text>
<text x="1328" y="440.6" font-size="20.3" fill="#131722" textLength="38" lengthAdjust="spacingAndGlyphs">0.00</text>
<g shape-rendering="geometricPrecision"><path d="M1313,83 h88 a2,2 0 0 1 2,2 v25 a2,2 0 0 1 -2,2 h-88 z" fill="#26a69a"/><text x="1329.8" y="102.4" font-size="20.3" fill="#fff" textLength="64.2" lengthAdjust="spacingAndGlyphs">1,660.3</text></g>
<g shape-rendering="geometricPrecision"><path d="M1313,112 h88 a2,2 0 0 1 2,2 v25 a2,2 0 0 1 -2,2 h-88 z" fill="#2962ff"/><text x="1329.8" y="131.6" font-size="20.3" fill="#fff" textLength="64.2" lengthAdjust="spacingAndGlyphs">1,591.8</text></g>
<g shape-rendering="geometricPrecision"><path d="M1313,350 h73 a2,2 0 0 1 2,2 v25 a2,2 0 0 1 -2,2 h-73 z" fill="#2962ff"/><text x="1328.9" y="371.7" font-size="20.3" fill="#fff" textLength="50.1" lengthAdjust="spacingAndGlyphs">88.29</text></g>
<g shape-rendering="geometricPrecision"><path d="M1313,379 h73 a2,2 0 0 1 2,2 v24.5 a2,2 0 0 1 -2,2 h-73 z" fill="#ff6d00"/><text x="1328.9" y="400.5" font-size="20.3" fill="#fff" textLength="50.1" lengthAdjust="spacingAndGlyphs">68.00</text></g>
<text x="112.8" y="472.7" font-size="21" font-weight="bold" fill="#131722" textLength="31.1" lengthAdjust="spacingAndGlyphs">Apr</text>
<text x="245.2" y="472.7" font-size="21" font-weight="bold" fill="#131722" textLength="37.4" lengthAdjust="spacingAndGlyphs">May</text>
<text x="383.2" y="472.7" font-size="21" font-weight="bold" fill="#131722" textLength="33.6" lengthAdjust="spacingAndGlyphs">Jun</text>
<text x="514.4" y="472.7" font-size="21" font-weight="bold" fill="#131722" textLength="27.2" lengthAdjust="spacingAndGlyphs">Jul</text>
<text x="659.7" y="472.7" font-size="21" font-weight="bold" fill="#131722" textLength="35.8" lengthAdjust="spacingAndGlyphs">Aug</text>
<text x="803" y="472.7" font-size="21" font-weight="bold" fill="#131722" textLength="34.2" lengthAdjust="spacingAndGlyphs">Sep</text>
<text x="954.2" y="472.7" font-size="21" font-weight="bold" fill="#131722" textLength="30.6" lengthAdjust="spacingAndGlyphs">Oct</text>
<text x="1101.4" y="472.7" font-size="21" font-weight="bold" fill="#131722" textLength="35" lengthAdjust="spacingAndGlyphs">Nov</text>
<text x="1237.4" y="472.7" font-size="21" font-weight="bold" fill="#131722" textLength="33.9" lengthAdjust="spacingAndGlyphs">Dec</text>
<g shape-rendering="geometricPrecision" fill="#131722">
<path d="M20.3,526.1 H40.7 V551.8 H30.9 V536.2 H20.3 Z"/>
<circle cx="49.2" cy="531.2" r="4.85"/>
<path d="M59.3,526.1 H70.9 L61,551.8 H49.2 Z"/>
<clipPath id="lg"><rect x="80" y="533.1" width="215" height="18.9"/></clipPath>
<rect x="83" y="526.1" width="18.6" height="5.3"/><rect x="89.9" y="526.1" width="5" height="25.9"/>
<rect x="102.1" y="533" width="4.9" height="19"/><path d="M104.55,544 C104.55,537.5 107.5,535.45 112.7,535.45" fill="none" stroke="#131722" stroke-width="4.9"/>
<ellipse cx="123" cy="542.5" rx="7" ry="7.45" fill="none" stroke="#131722" stroke-width="4.9"/><rect x="127.6" y="533" width="4.9" height="19"/>
<ellipse cx="145" cy="542.5" rx="6.9" ry="7.45" fill="none" stroke="#131722" stroke-width="4.9"/><rect x="149.5" y="526.1" width="4.8" height="25.9"/>
<circle cx="160.6" cy="528.2" r="3.1"/><rect x="158.1" y="533" width="4.9" height="19"/>
<path d="M168.55,552 V541 A6.28,6.28 0 0 1 181.1,541 V552" fill="none" stroke="#131722" stroke-width="4.9"/>
<ellipse cx="196" cy="542.4" rx="6.95" ry="7.2" fill="none" stroke="#131722" stroke-width="4.9"/><rect x="200.4" y="533" width="5" height="19"/>
<path d="M202.9,550 V551 C202.9,555.5 199.5,557.3 195.5,557.3 C192.5,557.3 190.2,556.3 188.5,554.5" fill="none" stroke="#131722" stroke-width="4.9"/>
<polygon points="205,526.2 212.3,526.2 217.75,544.6 223.2,526.2 230.5,526.2 222.2,552 213.3,552"/>
<circle cx="235.2" cy="528.2" r="3.1"/><rect x="232.8" y="533" width="5" height="19"/>
<rect x="243" y="539.7" width="16.2" height="3.8"/><path d="M257.1,541.6 A7.0,7.8 0 1 0 255.6,547.3" fill="none" stroke="#131722" stroke-width="4.5"/>
<polyline clip-path="url(#lg)" points="262.8,527 268.3,556 274.1,537.5 279.9,556 285.4,527" fill="none" stroke="#131722" stroke-width="5" stroke-linejoin="miter"/>
</g>
</svg></body></html>
